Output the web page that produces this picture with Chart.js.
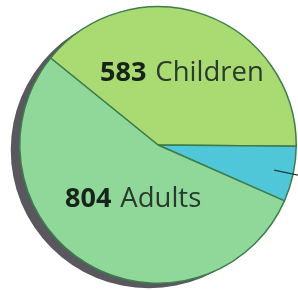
<!DOCTYPE html>
<html>
<head>
<meta charset="utf-8">
<script src="https://cdn.jsdelivr.net/npm/chart.js@4/dist/chart.umd.min.js"></script>
<style>
  html, body { margin: 0; padding: 0; background: #fff; }
  #wrap { width: 298px; height: 290px; }
</style>
</head>
<body>
<div id="wrap"><canvas id="pie"></canvas></div>
<script>
const categories = ['Children', 'Other', 'Adults'];
const counts = [583, 96, 804];
const sliceColors = ['#a9db72', '#50c6d9', '#8fd89a'];
const showLabel = [true, false, true];

// gray drop shadow behind the pie
const shadowPlugin = {
    id: 'shadow',
    beforeDatasetsDraw(chart) {
        const arc = chart.getDatasetMeta(0).data[0];
        const ctx = chart.ctx;
        ctx.save();
        ctx.fillStyle = '#58585e';
        ctx.beginPath();
        ctx.arc(arc.x - 9, arc.y + 5, arc.outerRadius, 0, Math.PI * 2);
        ctx.fill();
        ctx.restore();
    }
};

// "583 Children" style labels plus the leader line for the small slice
const labelPlugin = {
    id: 'labels',
    afterDatasetsDraw(chart) {
        const meta = chart.getDatasetMeta(0);
        const ctx = chart.ctx;
        const offsets = [[-58, -64], null, [-93, 62]];
        ctx.save();
        meta.data.forEach((arc, i) => {
            if (!showLabel[i]) {
                const mid = (arc.startAngle + arc.endAngle) / 2;
                const r = arc.outerRadius;
                ctx.strokeStyle = '#1d3a3a';
                ctx.lineWidth = 1.2;
                ctx.beginPath();
                ctx.moveTo(arc.x + Math.cos(mid) * r * 0.86, arc.y + Math.sin(mid) * r * 0.86);
                ctx.lineTo(arc.x + Math.cos(mid) * r * 1.1, arc.y + Math.sin(mid) * r * 1.1);
                ctx.stroke();
                return;
            }
            const x = arc.x + offsets[i][0];
            const y = arc.y + offsets[i][1];
            ctx.fillStyle = '#16241a';
            ctx.textBaseline = 'alphabetic';
            ctx.font = 'bold 27px "Open Sans"';
            const num = String(counts[i]);
            ctx.fillText(num, x, y);
            const w = ctx.measureText(num).width + 9;
            ctx.fillStyle = '#2a3a2c';
            ctx.font = '27.5px "Open Sans"';
            ctx.fillText(categories[i], x + w, y);
        });
        ctx.restore();
    }
};

new Chart(document.getElementById('pie'), {
    type: 'pie',
    data: {
        labels: categories,
        datasets: [{
            data: counts,
            backgroundColor: sliceColors,
            borderColor: '#3f7d4c',
            borderWidth: 1.5
        }]
    },
    options: {
        responsive: true,
        maintainAspectRatio: false,
        animation: false,
        rotation: -51,
        layout: { padding: { left: 19, right: 1, top: 6, bottom: 6 } },
        plugins: {
            legend: { display: false },
            tooltip: { enabled: false }
        }
    },
    plugins: [shadowPlugin, labelPlugin]
});
</script>
</body>
</html>
